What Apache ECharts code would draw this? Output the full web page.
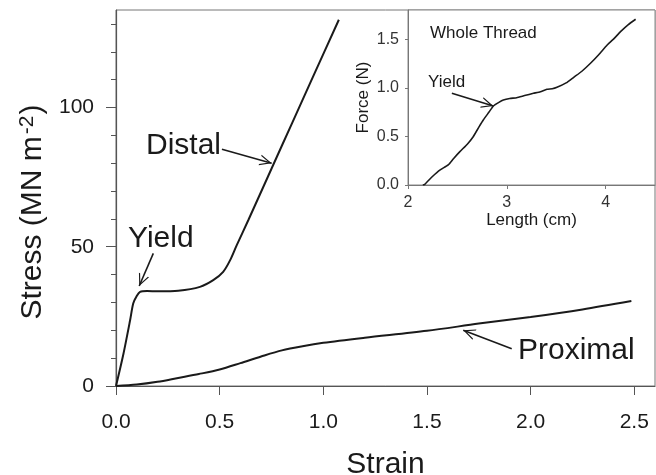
<!DOCTYPE html>
<html>
<head>
<meta charset="utf-8">
<script src="https://cdn.jsdelivr.net/npm/echarts@6/dist/echarts.min.js"></script>
<style>
  html, body { margin: 0; padding: 0; background: #fff; }
  #chart { width: 656px; height: 475px; }
</style>
</head>
<body>
<div id="chart"></div>
<script>
// main plot: stress vs strain, two thread regions
const distalStrain = [0, 0.036, 0.068, 0.083, 0.1, 0.116, 0.15, 0.2, 0.3, 0.405, 0.469, 0.517, 0.55, 0.582, 0.638, 0.75, 0.85, 0.95, 1.075];
const distalStress = [0, 11.6, 23.6, 29.6, 32.3, 33.8, 34.1, 34.0, 34.2, 35.6, 38.0, 41.0, 45.1, 50.5, 59.5, 78.0, 94.5, 111.0, 131.5];

const proximalStrain = [0, 0.1, 0.2, 0.3, 0.4, 0.5, 0.6, 0.7, 0.8, 0.9, 1.0, 1.2, 1.5, 1.75, 2.0, 2.25, 2.486];
const proximalStress = [0, 0.5, 1.5, 2.9, 4.3, 5.9, 8.2, 10.6, 12.8, 14.3, 15.5, 17.3, 19.8, 22.4, 24.8, 27.5, 30.5];

// inset: whole thread force vs length
const threadLength = [2.15, 2.17, 2.25, 2.322, 2.407, 2.46, 2.525, 2.6, 2.66, 2.72, 2.762, 2.82, 2.864, 2.92, 2.965, 3.03, 3.1, 3.18, 3.27, 3.34, 3.406, 3.46, 3.508, 3.6, 3.677, 3.76, 3.847, 3.93, 4.016, 4.08, 4.151, 4.23, 4.304];
const threadForce = [0, 0.007, 0.09, 0.154, 0.206, 0.27, 0.343, 0.42, 0.497, 0.6, 0.669, 0.75, 0.813, 0.85, 0.874, 0.89, 0.898, 0.92, 0.943, 0.96, 0.985, 0.99, 1.005, 1.05, 1.108, 1.17, 1.252, 1.34, 1.44, 1.5, 1.577, 1.65, 1.705];

const strainTicks = [0, 0.5, 1.0, 1.5, 2.0, 2.5];
const stressTicks = [0, 50, 100];
const stressMinorTicks = [10, 20, 30, 40, 60, 70, 80, 90, 110, 120, 130];
const lengthTicks = [2, 3, 4];
const forceTicks = [0, 0.5, 1.0, 1.5];

const FONT = "'Liberation Sans', Arial, sans-serif";
const INK = '#1a1a1a';
const AXIS = '#555';

// open V arrow head, tip at the centre of its box
const ARROW = 'path://M0,0 L6,12 L4.6,12 L0,2.8 L-4.6,12 L-6,12 Z M0,-12 L0.01,-12 Z';

const zip = (a, b) => a.map((v, i) => [v, b[i]]);

function arrow(from, to) {
  return {
    silent: true,
    animation: false,
    symbol: ['none', ARROW],
    symbolSize: [11, 24],
    lineStyle: { color: INK, width: 1.6, type: 'solid' },
    label: { show: false },
    data: [[{ coord: from }, { coord: to }]]
  };
}

function note(text, x, y, size, align) {
  return {
    type: 'text', x: x, y: y, silent: true,
    style: { text: text, font: `${size}px ${FONT}`, fill: INK, align: align || 'left', verticalAlign: 'middle' }
  };
}

const chart = echarts.init(document.getElementById('chart'), null, { renderer: 'canvas' });

chart.setOption({
  animation: false,
  backgroundColor: '#fff',
  textStyle: { fontFamily: FONT, color: INK },
  grid: [
    { left: 116, top: 10, right: 1, bottom: 89, outerBoundsMode: 'none', containLabel: false,
      show: true, borderColor: '#777', borderWidth: 1 },
    { left: 408, top: 10, right: 1, bottom: 290, outerBoundsMode: 'none', containLabel: false,
      show: true, borderColor: '#888', borderWidth: 1, backgroundColor: '#fff' }
  ],
  xAxis: [
    {
      gridIndex: 0, type: 'value', min: 0, max: 2.6,
      name: 'Strain', nameLocation: 'middle', nameGap: 64,
      nameTextStyle: { fontSize: 30, color: INK, fontFamily: FONT },
      axisLine: { lineStyle: { color: AXIS, width: 1.2 } },
      axisTick: { show: true, length: 9, customValues: strainTicks, lineStyle: { color: AXIS } },
      axisLabel: { customValues: strainTicks, formatter: (v) => v.toFixed(1), fontSize: 21, color: INK, margin: 26 },
      splitLine: { show: false }
    },
    {
      gridIndex: 1, type: 'value', min: 2, max: 4.5,
      name: 'Length (cm)', nameLocation: 'middle', nameGap: 21,
      nameTextStyle: { fontSize: 17, color: INK, fontFamily: FONT },
      axisLine: { lineStyle: { color: '#777' } },
      axisTick: { show: true, length: 4, customValues: lengthTicks, lineStyle: { color: '#777' } },
      axisLabel: { customValues: lengthTicks, fontSize: 16, color: '#333', margin: 10 },
      splitLine: { show: false }
    }
  ],
  yAxis: [
    {
      gridIndex: 0, type: 'value', min: 0, max: 135,
      name: '{a|Stress (MN m}{s|-2}{a|)}', nameLocation: 'middle', nameGap: 67,
      nameTextStyle: {
        color: INK,
        padding: [0, 28, 0, 0],
        rich: {
          a: { fontSize: 30, fontFamily: FONT, color: INK, lineHeight: 32 },
          s: { fontSize: 21, fontFamily: FONT, color: INK, verticalAlign: 'top', lineHeight: 32, padding: [0, 1, 0, 2] }
        }
      },
      axisLine: { show: true, lineStyle: { color: AXIS, width: 1.2 } },
      axisTick: { show: true, length: 10, customValues: stressTicks, lineStyle: { color: AXIS } },
      axisLabel: { customValues: stressTicks, fontSize: 21, color: INK, margin: 22 },
      splitLine: { show: false }
    },
    {
      gridIndex: 0, type: 'value', min: 0, max: 135, position: 'left',
      axisLine: { show: false },
      axisTick: { show: true, length: 5, customValues: stressMinorTicks, lineStyle: { color: AXIS } },
      axisLabel: { show: false },
      splitLine: { show: false }
    },
    {
      gridIndex: 1, type: 'value', min: 0, max: 1.8,
      name: 'Force (N)', nameLocation: 'middle', nameGap: 36,
      nameTextStyle: { fontSize: 17, color: INK, fontFamily: FONT },
      axisLine: { show: true, lineStyle: { color: '#777' } },
      axisTick: { show: true, length: 3, customValues: forceTicks, lineStyle: { color: '#777' } },
      axisLabel: { customValues: forceTicks, formatter: (v) => v.toFixed(1), fontSize: 16, color: '#333', margin: 9 },
      splitLine: { show: false }
    }
  ],
  series: [
    {
      name: 'Distal', type: 'line', xAxisIndex: 0, yAxisIndex: 0,
      data: zip(distalStrain, distalStress), showSymbol: false, smooth: 0.25,
      lineStyle: { color: INK, width: 2 },
      markLine: arrow([0.511, 85.0], [0.751, 80.0])
    },
    {
      name: 'Yield', type: 'line', xAxisIndex: 0, yAxisIndex: 0, data: [], showSymbol: false,
      markLine: arrow([0.180, 47.6], [0.112, 35.9])
    },
    {
      name: 'Proximal', type: 'line', xAxisIndex: 0, yAxisIndex: 0,
      data: zip(proximalStrain, proximalStress), showSymbol: false, smooth: 0.3,
      lineStyle: { color: INK, width: 2 },
      markLine: arrow([1.909, 13.4], [1.675, 20.0])
    },
    {
      name: 'Whole Thread', type: 'line', xAxisIndex: 1, yAxisIndex: 2,
      data: zip(threadLength, threadForce), showSymbol: false, smooth: 0.15,
      lineStyle: { color: INK, width: 1.6 },
      markLine: arrow([2.444, 0.943], [2.864, 0.813])
    }
  ],
  graphic: [
    note('Distal', 221, 146, 30, 'right'),
    note('Yield', 128, 239, 30),
    note('Proximal', 518, 351, 30),
    note('Whole Thread', 430, 33, 17),
    note('Yield', 428, 82, 17)
  ]
});
</script>
</body>
</html>
